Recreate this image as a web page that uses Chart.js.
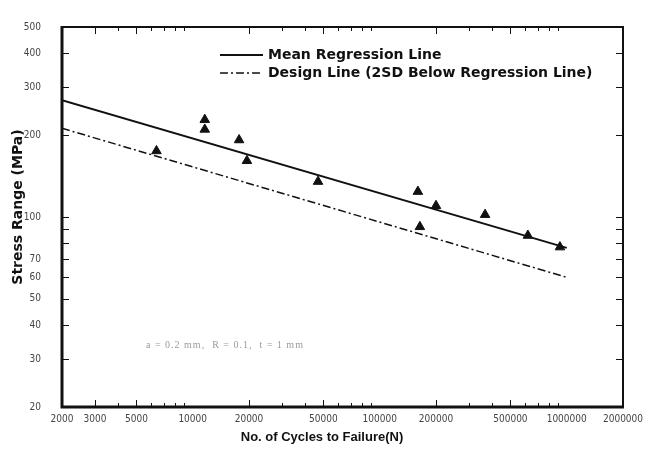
<!DOCTYPE html>
<html lang="en">
<head>
    <meta charset="UTF-8">
    <title>Stress Range vs Cycles to Failure</title>
    <script src="https://cdn.jsdelivr.net/npm/chart.js"></script>
    <style>
        html, body {
            margin: 0;
            background: #fff;
            overflow: hidden;
        }
        canvas {
            display: block;
        }
    </style>
</head>
<body>
    <!-- wider than the page so the last x label runs off the edge -->
    <canvas id="snChart" width="680" height="450"></canvas>
    <script>
        // Test results: cycles to failure and applied stress range (MPa)
        const cycles = [6400, 11600, 11600, 17700, 19500, 46800, 160000, 164000, 200000, 366000, 620000, 920000];
        const stress = [175, 228, 210, 192, 161, 135, 124, 92, 110, 102, 85.5, 77.5];

        // Regression and design lines (end points on log-log axes)
        const lineCycles = [2000, 1000000];
        const meanStress = [269, 77];
        const designStress = [212, 60];

        // Axis ticks
        const xTicks = [2000, 3000, 5000, 10000, 20000, 50000, 100000, 200000, 500000, 1000000, 2000000];
        const yTicks = [20, 30, 40, 50, 60, 70, 80, 90, 100, 200, 300, 400, 500];
        const yUnlabeled = [80, 90];

        const legendItems = ['Mean Regression Line', 'Design Line (2SD Below Regression Line)'];
        const noteText = 'a = 0.2 mm,  R = 0.1,  t = 1 mm';

        const tickFont = { family: "'Liberation Sans Narrow', 'DejaVu Sans Condensed', sans-serif", size: 10 };
        const dashDot = [8, 3, 2, 3];

        const toPoints = (xs, ys) => xs.map((x, i) => ({ x: x, y: ys[i] }));

        // minor tick values 2..9 x 10^k inside the x range
        const xMinor = [];
        for (let p = 1000; p <= 1000000; p *= 10) {
            for (let m = 2; m <= 9; m++) {
                const v = m * p;
                if (v >= 2000 && v <= 2000000) xMinor.push(v);
            }
        }

        // frame, inward tick marks, titles, legend and note
        const framePlugin = {
            id: 'frame',
            afterDraw(chart) {
                const ctx = chart.ctx;
                const { left, right, top, bottom } = chart.chartArea;
                const xs = chart.scales.x;
                const ys = chart.scales.y;
                ctx.save();
                ctx.strokeStyle = '#111';

                // x tick marks, bottom and top
                ctx.lineWidth = 1;
                xMinor.forEach(v => {
                    const px = Math.round(xs.getPixelForValue(v)) + 0.5;
                    const len = xTicks.includes(v) ? 7 : 4;
                    ctx.beginPath();
                    ctx.moveTo(px, bottom);
                    ctx.lineTo(px, bottom - len);
                    ctx.moveTo(px, top);
                    ctx.lineTo(px, top + len);
                    ctx.stroke();
                });
                // y tick marks, left and right
                yTicks.forEach(v => {
                    const py = Math.round(ys.getPixelForValue(v)) + 0.5;
                    ctx.beginPath();
                    ctx.moveTo(left, py);
                    ctx.lineTo(left + 7, py);
                    ctx.moveTo(right, py);
                    ctx.lineTo(right - 7, py);
                    ctx.stroke();
                });

                // frame: heavier on left and bottom
                ctx.lineWidth = 2;
                ctx.beginPath();
                ctx.moveTo(left, top);
                ctx.lineTo(right, top);
                ctx.lineTo(right, bottom);
                ctx.stroke();
                ctx.lineWidth = 3;
                ctx.beginPath();
                ctx.moveTo(left, top - 1);
                ctx.lineTo(left, bottom);
                ctx.lineTo(right + 1, bottom);
                ctx.stroke();

                // axis titles
                ctx.fillStyle = '#111';
                ctx.textAlign = 'center';
                ctx.textBaseline = 'middle';
                ctx.font = "bold 13px 'Liberation Sans', Arial, sans-serif";
                ctx.fillText('No. of Cycles to Failure(N)', 322, 437);
                ctx.save();
                ctx.font = "bold 14px 'DejaVu Sans', sans-serif";
                ctx.translate(18, 207);
                ctx.rotate(-Math.PI / 2);
                ctx.fillText('Stress Range (MPa)', 0, 0);
                ctx.restore();

                // legend
                ctx.textAlign = 'left';
                ctx.font = "bold 14px 'DejaVu Sans', sans-serif";
                legendItems.forEach((label, i) => {
                    const y = 55 + i * 18;
                    ctx.lineWidth = i === 0 ? 2 : 1.5;
                    ctx.setLineDash(i === 0 ? [] : dashDot);
                    ctx.beginPath();
                    ctx.moveTo(220, y);
                    ctx.lineTo(263, y);
                    ctx.stroke();
                    ctx.setLineDash([]);
                    ctx.fillText(label, 268, y);
                });

                // specimen note
                ctx.fillStyle = '#9a9a9a';
                ctx.font = "10px 'Liberation Serif', serif";
                ctx.letterSpacing = '1px';
                ctx.fillText(noteText, 146, 345);
                ctx.restore();
            }
        };

        const ctx = document.getElementById('snChart').getContext('2d');
        new Chart(ctx, {
            type: 'scatter',
            data: {
                datasets: [
                    {
                        label: legendItems[0],
                        data: toPoints(lineCycles, meanStress),
                        showLine: true,
                        borderColor: '#111',
                        borderWidth: 2,
                        pointRadius: 0
                    },
                    {
                        label: legendItems[1],
                        data: toPoints(lineCycles, designStress),
                        showLine: true,
                        borderColor: '#111',
                        borderWidth: 1.5,
                        borderDash: dashDot,
                        pointRadius: 0
                    },
                    {
                        label: 'Test data',
                        data: toPoints(cycles, stress),
                        pointStyle: 'triangle',
                        pointRadius: 5.5,
                        backgroundColor: '#111',
                        borderColor: '#111',
                        borderWidth: 1
                    }
                ]
            },
            options: {
                responsive: false,
                animation: false,
                layout: {
                    padding: { top: 17, right: 57, left: 0, bottom: 0 }
                },
                plugins: {
                    legend: { display: false },
                    tooltip: { enabled: false }
                },
                scales: {
                    x: {
                        type: 'logarithmic',
                        min: 2000,
                        max: 2000000,
                        border: { display: false },
                        grid: { display: false, drawTicks: false },
                        afterBuildTicks: scale => {
                            scale.ticks = xTicks.map(v => ({ value: v }));
                        },
                        afterFit: scale => {
                            scale.height = 43;
                        },
                        ticks: {
                            autoSkip: false,
                            maxRotation: 0,
                            padding: 6,
                            color: '#444',
                            font: tickFont,
                            callback: value => String(value)
                        }
                    },
                    y: {
                        type: 'logarithmic',
                        min: 20,
                        max: 500,
                        border: { display: false },
                        grid: { display: false, drawTicks: false },
                        afterBuildTicks: scale => {
                            scale.ticks = yTicks.map(v => ({ value: v }));
                        },
                        afterFit: scale => {
                            scale.width = 62;
                        },
                        ticks: {
                            autoSkip: false,
                            padding: 21,
                            color: '#444',
                            font: tickFont,
                            callback: value => yUnlabeled.includes(value) ? '' : String(value)
                        }
                    }
                }
            },
            plugins: [framePlugin]
        });
    </script>
</body>
</html>
